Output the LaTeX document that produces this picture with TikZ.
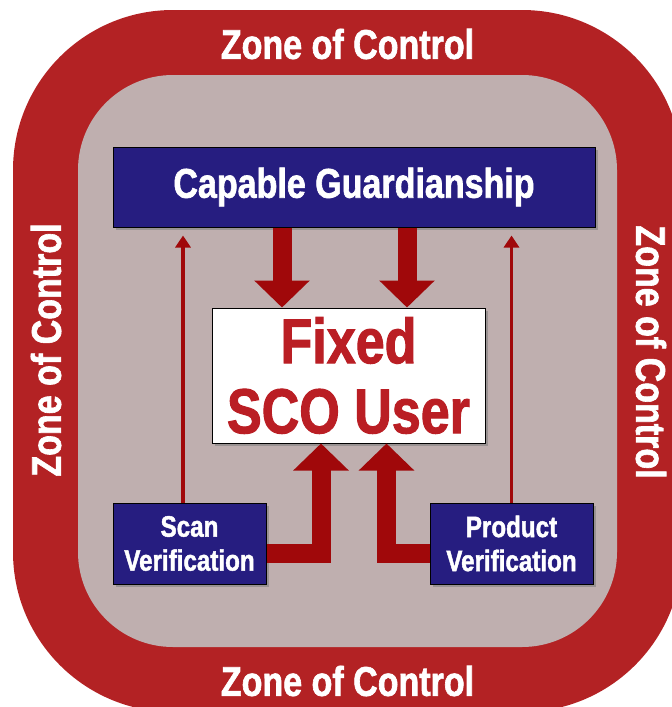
\documentclass[tikz,border=0pt]{standalone}
\usepackage{fontspec}
\newfontfamily\zonefont{Liberation Sans}[FakeStretch=0.82, FakeBold=1.5]
\usepackage{tikz}
\usetikzlibrary{arrows.meta,positioning,shadows}
\definecolor{zonered}{RGB}{179,34,36}
\definecolor{zonegray}{RGB}{191,175,175}
\definecolor{guardblue}{RGB}{38,29,128}
\definecolor{arrowred}{RGB}{160,8,10}
\definecolor{usertext}{RGB}{186,30,36}
\tikzset{
  box/.style={draw=black, line width=1pt, align=center, inner sep=0pt,
    drop shadow={shadow xshift=3pt, shadow yshift=-3pt, opacity=0.6}},
  bluebox/.style={box, fill=guardblue, text=white},
  userbox/.style={box, fill=white, text=usertext,
    font=\zonefont\bfseries\fontsize{63.5}{70}\selectfont},
  smallbox/.style={bluebox, font=\zonefont\bfseries\fontsize{29.5}{34}\selectfont},
  zonetext/.style={text=white, font=\zonefont\bfseries\fontsize{41.5}{42}\selectfont},
  bigarr/.style={draw=arrowred, line width=19pt, -{Triangle[width=54pt,length=27pt]}},
  thinarr/.style={draw=arrowred, line width=3.5pt, -{Triangle[width=15pt,length=12pt]}}
}
\begin{document}
\begin{tikzpicture}[x=1pt, y=-1pt]
  \useasboundingbox (0,0) rectangle (672,707);
  % zone of control ring
  \fill[zonered, rounded corners=160pt] (13,10) rectangle (682,712);
  \fill[zonegray, rounded corners=95pt] (78,75) rectangle (617,647);
  \node[zonetext] (ztop) at (347.5,44) {Zone of Control};
  \node[zonetext] (zbot) at (347.5,681) {Zone of Control};
  \node[zonetext, rotate=90] (zleft) at (46,350) {Zone of Control};
  \node[zonetext, rotate=-90] (zright) at (651,352) {Zone of Control};

  % boxes
  \node[bluebox, minimum width=482pt, minimum height=80pt,
    font=\zonefont\bfseries\fontsize{41.5}{42}\selectfont] (guard) at (354,187) {Capable Guardianship};
  \node[userbox, minimum width=273pt, minimum height=135pt, below=80pt of guard, xshift=-5.5pt] (user) {Fixed\\SCO User};
  \node[smallbox, minimum width=153pt, minimum height=81pt] (scan) at (189.5,543.5) {Scan\\Verification};
  \node[smallbox, minimum width=163pt, minimum height=81pt] (prod) at (511.5,543.5) {Product\\Verification};

  % arrows
  \draw[bigarr] ([xshift=-72pt]guard.south) -- ([xshift=-72pt]guard.south |- user.north);
  \draw[bigarr] ([xshift=53pt]guard.south) -- ([xshift=53pt]guard.south |- user.north);
  \draw[bigarr] ([yshift=-9.5pt]scan.east) -| ([xshift=-27.5pt]user.south);
  \draw[bigarr] ([yshift=-9.5pt]prod.west) -| ([xshift=38pt]user.south);
  \draw[thinarr, shorten >=8pt] ([xshift=-6.5pt]scan.north) -- ([xshift=-6.5pt]scan.north |- guard.south);
  \draw[thinarr, shorten >=8pt] (prod.north) -- (prod.north |- guard.south);
\end{tikzpicture}
\end{document}
